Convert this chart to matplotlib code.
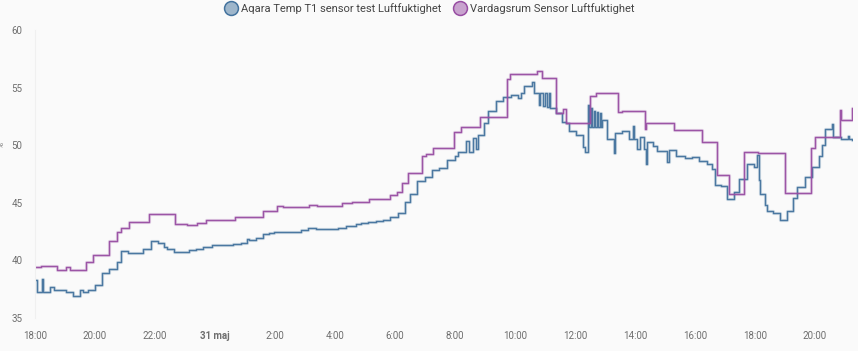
import numpy as np
import pandas as pd
import matplotlib
matplotlib.use("Agg")
import matplotlib.pyplot as plt
from matplotlib.lines import Line2D

plt.rcParams['font.family'] = ['Roboto', 'DejaVu Sans']

start = pd.Timestamp("2023-05-30 18:00")
end = start + pd.Timedelta(hours=27.27)

# hours after 30 maj 18:00, humidity in %
vard_h = [0.00, 0.19, 0.74, 1.02, 1.18, 1.70, 1.94, 2.46, 2.72, 2.86, 3.13, 3.81,
          4.67, 5.08, 5.39, 5.69, 6.67, 7.59, 8.08, 8.26, 9.14, 9.41, 10.24, 10.58,
          11.13, 11.84, 12.08, 12.22, 12.45, 12.89, 13.03, 13.26, 13.97, 14.20, 14.83,
          15.72, 15.83, 16.72, 16.90, 17.36, 17.59, 17.69, 18.50, 18.70, 19.42, 19.56,
          20.34, 20.36, 21.30, 22.22, 22.72, 23.13, 23.64, 24.11, 25.00, 25.87, 26.00,
          26.84, 26.86, 27.23]
vard_v = [39.45, 39.55, 39.15, 39.4, 39.15, 39.85, 40.45, 41.7, 42.5, 42.85, 43.35, 44.0,
          43.2, 43.05, 43.25, 43.55, 43.75, 44.3, 44.75, 44.65, 44.85, 44.75, 44.95, 45.05,
          45.35, 45.65, 45.95, 46.75, 47.55, 49.1, 49.25, 49.75, 51.15, 51.6, 52.45,
          55.75, 56.2, 56.45, 55.8, 52.8, 53.15, 51.9, 54.3, 54.55, 52.9, 53.0,
          51.4, 51.9, 51.35, 50.3, 47.45, 45.75, 49.4, 49.3, 45.85, 49.8, 50.75,
          53.05, 52.15, 53.2]

aqara_h = [0.00, 0.06, 0.23, 0.25, 0.50, 0.63, 0.74, 1.02, 1.26, 1.50, 1.59, 1.76,
           2.00, 2.22, 2.47, 2.72, 2.87, 3.11, 3.61, 3.87, 4.11, 4.31, 4.39, 4.63,
           5.12, 5.36, 5.61, 5.89, 6.11, 6.61, 6.86, 7.06, 7.13, 7.36, 7.61, 7.81,
           7.96, 8.86, 9.11, 9.37, 10.11, 10.37, 10.70, 10.86, 11.11, 11.36, 11.61, 11.84,
           12.09, 12.33, 12.50, 12.72, 13.00, 13.22, 13.48, 13.74, 14.00, 14.11, 14.37,
           14.46, 14.61, 14.70, 14.76, 14.98, 15.11, 15.37, 15.61, 15.86, 16.11, 16.19,
           16.31, 16.56, 16.65, 16.81, 16.83, 16.92, 17.00, 17.08, 17.13, 17.17, 17.37,
           17.56, 17.69, 17.80, 18.02, 18.26, 18.33, 18.42, 18.48, 18.52, 18.57, 18.62,
           18.68, 18.73, 18.78, 18.83, 18.87, 18.89, 19.08, 19.31, 19.33, 19.56, 19.81,
           19.94, 19.97, 20.06, 20.17, 20.30, 20.37, 20.39, 20.61, 20.75, 21.08, 21.12,
           21.37, 21.67, 21.89, 22.13, 22.39, 22.56, 22.67, 22.86, 23.06, 23.31, 23.48,
           23.72, 23.97, 24.06, 24.12, 24.18, 24.32, 24.41, 24.59, 24.83, 25.08, 25.28,
           25.41, 25.67, 25.89, 26.14, 26.22, 26.33, 26.56, 26.60, 26.86, 27.11, 27.15,
           27.22]
aqara_v = [38.3, 37.3, 38.35, 37.3, 37.7, 37.4, 37.45, 37.3, 36.95, 37.45, 37.3, 37.45,
           37.9, 38.95, 39.25, 39.85, 40.8, 40.65, 41.0, 41.7, 41.55, 41.15, 40.95, 40.75,
           40.9, 41.0, 41.15, 41.3, 41.35, 41.45, 41.55, 41.85, 41.75, 41.95, 42.25, 42.35,
           42.45, 42.6, 42.85, 42.75, 42.85, 42.95, 43.15, 43.25, 43.35, 43.45, 43.55, 43.75,
           44.1, 45.05, 45.8, 46.85, 47.2, 47.85, 48.0, 48.7, 49.05, 49.4, 50.4,
           49.4, 50.65, 49.65, 50.85, 51.95, 53.0, 53.85, 54.2, 54.35, 54.1, 54.5,
           55.1, 55.5, 54.55, 53.5, 54.55, 53.4, 54.5, 53.35, 54.55, 53.25, 52.8,
           52.0, 51.9, 51.25, 50.9, 49.85, 49.45, 53.5, 51.6, 53.2, 51.6, 53.0,
           51.6, 52.9, 51.6, 52.8, 51.6, 52.2, 50.5, 49.35, 51.05, 51.25, 50.5,
           51.65, 50.5, 49.65, 50.75, 49.65, 48.35, 50.3, 49.95, 49.5, 48.5, 49.55,
           49.1, 48.85, 48.95, 48.6, 48.4, 47.9, 46.55, 46.45, 45.3, 45.95, 47.05,
           48.35, 48.1, 49.15, 47.0, 45.75, 44.8, 44.3, 44.1, 43.55, 44.3, 45.4,
           46.4, 47.25, 48.1, 49.05, 50.0, 51.4, 51.8, 50.75, 50.55, 50.8, 50.5,
           50.45]

series = [
    ("Aqara Temp T1 sensor test Luftfuktighet", aqara_h, aqara_v, "#44739e"),
    ("Vardagsrum Sensor Luftfuktighet", vard_h, vard_v, "#984ea3"),
]

tick_hours = list(range(0, 28, 2))
tick_labels = ["18:00", "20:00", "22:00", "31 maj", "2:00", "4:00", "6:00", "8:00",
               "10:00", "12:00", "14:00", "16:00", "18:00", "20:00"]

bg = "#fafafa"
fig = plt.figure(figsize=(8.58, 3.51), dpi=100, facecolor=bg)
ax = fig.add_axes([0.0408, 0.094, 0.9534, 0.8205], facecolor=bg)

handles = []
for name, hrs, vals, col in series:
    t = start + pd.to_timedelta(np.array(hrs + [27.27]), unit="h")
    v = np.array(vals + [vals[-1]])
    ax.step(t, v, where="post", color=col, lw=2.3, alpha=0.2)
    ax.step(t, v, where="post", color=col, lw=1.05, alpha=0.95)
    handles.append(Line2D([], [], ls="none", marker="o", markersize=10,
                          markerfacecolor=matplotlib.colors.to_rgba(col, 0.5),
                          markeredgecolor=col, markeredgewidth=1.1, label=name))

ax.set_xlim(start, end)
ax.set_ylim(35, 60)
ax.set_yticks([35, 40, 45, 50, 55, 60])
ticks = [start + pd.Timedelta(hours=h) for h in tick_hours]
ax.set_xticks(ticks)
ax.set_xticklabels(tick_labels)
ax.get_xticklabels()[3].set_fontweight("bold")
ax.tick_params(length=0, labelsize=7, labelcolor="#6e6e6e")
ax.tick_params(axis="x", pad=9)
ax.tick_params(axis="y", pad=9)
for s in ["top", "right", "bottom"]:
    ax.spines[s].set_visible(False)
ax.spines["left"].set_color("#f0f0f0")
ax.set_ylabel("%", fontsize=6, color="#6e6e6e", labelpad=10)
ax.yaxis.set_label_coords(-0.037, 0.6)

fig.legend(handles=handles, loc="upper center", bbox_to_anchor=(0.5, 1.02), ncol=2,
           frameon=False, fontsize=8.0, labelcolor="#444444", handletextpad=0.2,
           columnspacing=1.0, handlelength=1.4)

fig.savefig("out.png", dpi=100, facecolor=bg)
